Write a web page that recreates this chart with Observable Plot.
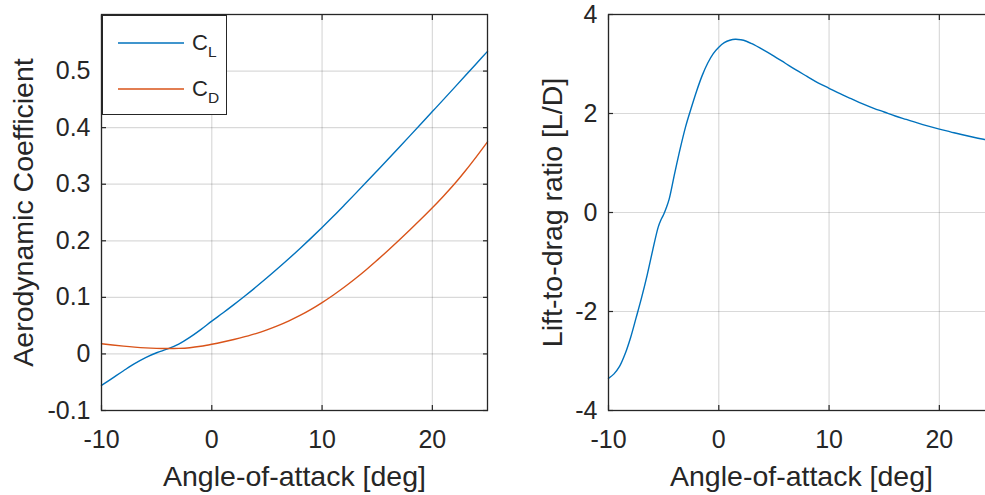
<!DOCTYPE html>
<html>
<head>
<meta charset="utf-8">
<script src="https://cdn.jsdelivr.net/npm/d3@7"></script>
<script src="https://cdn.jsdelivr.net/npm/@observablehq/plot@0.6"></script>
<style>
  html, body { margin: 0; padding: 0; background: #fff; }
  body { width: 985px; height: 495px; overflow: hidden; position: relative; font-family: "Liberation Sans", Arial, sans-serif; }
  #left, #right { position: absolute; top: 0; width: 500px; height: 495px; }
  #left { left: 0; }
  #right { left: 500px; }
  #left svg, #right svg { max-width: none !important; }
  #legend { position: absolute; left: 102px; top: 15px; width: 123px; height: 98px; border: 1.3px solid #262626; background: #fff; }
  .entry { position: absolute; left: 0; width: 123px; height: 30px; }
  .entry svg { position: absolute; left: 14px; top: 0; }
  .entry .lab { position: absolute; left: 89px; top: 0; font-size: 22px; color: #262626; line-height: 30px; }
  .entry .lab sub { font-size: 15.5px; vertical-align: -7px; }
</style>
</head>
<body>
<div id="left"></div>
<div id="right"></div>
<div id="legend"></div>
<script>
// ---------- data ----------
const aoaCoef = [-10,-9,-8,-7,-6,-5,-4,-3,-2,-1,0,1,2,3,4,5,6,7,8,9,10,11,12,13,14,15,16,17,18,19,20,21,22,23,24,25];
const CL = [-0.0557,-0.0427,-0.0297,-0.0172,-0.0064,0.0021,0.0089,0.0174,0.0292,0.0430,0.058,0.0723,0.0871,0.1024,0.1182,0.1345,0.1513,0.1686,0.1864,0.2047,0.2235,0.2428,0.2627,0.2829,0.3033,0.3239,0.3446,0.3654,0.3863,0.4073,0.4284,0.4495,0.4707,0.4920,0.5134,0.5348];
const CD = [0.0180,0.0157,0.0137,0.0120,0.0107,0.0099,0.0095,0.0098,0.0110,0.0135,0.0170,0.0210,0.0255,0.0305,0.0360,0.0425,0.0500,0.0585,0.0680,0.0788,0.0908,0.1038,0.1178,0.1328,0.1488,0.1658,0.1833,0.2013,0.2198,0.2388,0.2583,0.2788,0.3003,0.3238,0.3488,0.3748];

const aoaLD = [-10,-9.5,-9,-8.5,-8,-7.5,-7,-6.5,-6,-5.5,-5.25,-5,-4.75,-4.5,-4,-3.5,-3,-2.5,-2,-1.5,-1,-0.5,0,0.5,1,1.5,2,2.5,3,4,5,6,7,8,9,10,11,12,13,14,15,16,17,18,19,20,21,22,23,24,25];
const LD = [-3.35,-3.26,-3.11,-2.86,-2.53,-2.13,-1.72,-1.27,-0.77,-0.30,-0.15,-0.04,0.10,0.27,0.79,1.29,1.74,2.11,2.46,2.77,3.02,3.21,3.34,3.43,3.48,3.50,3.49,3.46,3.41,3.29,3.16,3.02,2.88,2.75,2.62,2.51,2.40,2.30,2.20,2.11,2.03,1.95,1.88,1.81,1.745,1.685,1.63,1.575,1.525,1.48,1.44];

const seriesNames = ["CL", "CD"];
const seriesColors = ["#0072BD", "#D95319"];
const legendBase = ["C", "C"];
const legendSub = ["L", "D"];

const xTicks = [-10, 0, 10, 20];
const yTicksLeft = [-0.1, 0, 0.1, 0.2, 0.3, 0.4, 0.5];
const yTicksRight = [-4, -2, 0, 2, 4];

const xLabel = "Angle-of-attack [deg]";
const yLabelLeft = "Aerodynamic Coefficient";
const yLabelRight = "Lift-to-drag ratio [L/D]";

// ---------- tables ----------
const coefRows = [];
aoaCoef.forEach((a, i) => {
  coefRows.push({aoa: a, value: CL[i], series: seriesNames[0]});
  coefRows.push({aoa: a, value: CD[i], series: seriesNames[1]});
});
const ldRows = aoaLD.map((a, i) => ({aoa: a, value: LD[i]}));

const ink = "#262626";
const gridStyle = {stroke: "#000", strokeOpacity: 0.15, strokeWidth: 1.2};
const fmt = d => (d < 0 ? "-" : "") + Math.abs(d).toString();
const tickFont = 25;
const labelFont = 28.5;

function grids(yTicks) {
  return [Plot.gridX(xTicks, gridStyle), Plot.gridY(yTicks, gridStyle)];
}
function axes(yTicks, yLabel, yLabelDx) {
  return [
    // inward tick marks
    Plot.axisX(xTicks, {anchor: "bottom", tickSize: 5, dy: -5, text: null, label: null, stroke: ink, strokeWidth: 1.2}),
    Plot.axisX(xTicks, {anchor: "top", tickSize: 5, dy: 5, text: null, label: null, stroke: ink, strokeWidth: 1.2}),
    Plot.axisY(yTicks, {anchor: "left", tickSize: 5, dx: 5, text: null, label: null, stroke: ink, strokeWidth: 1.2}),
    Plot.axisY(yTicks, {anchor: "right", tickSize: 5, dx: -5, text: null, label: null, stroke: ink, strokeWidth: 1.2}),
    // tick labels
    Plot.axisX(xTicks, {anchor: "bottom", tickSize: 0, tickPadding: 20, tickFormat: fmt, label: null, fontSize: tickFont, fill: ink}),
    Plot.axisY(yTicks, {anchor: "left", tickSize: 0, tickPadding: 11, tickFormat: fmt, label: null, fontSize: tickFont, fill: ink}),
    // axis titles
    Plot.text([xLabel], {frameAnchor: "bottom", lineAnchor: "middle", textAnchor: "middle", dy: 66, text: d => d, fontSize: labelFont, fill: ink}),
    Plot.text([yLabel], {frameAnchor: "left", lineAnchor: "middle", textAnchor: "middle", dx: yLabelDx, rotate: -90, text: d => d, fontSize: labelFont, fill: ink}),
    Plot.frame({stroke: ink, strokeWidth: 1.3})
  ];
}

const common = {
  width: 500, height: 495,
  marginTop: 14, marginBottom: 85,
  style: {fontFamily: "'Liberation Sans', Arial, sans-serif", background: "transparent", color: ink, overflow: "visible", maxWidth: "none"},
  x: {domain: [-10, 25]}
};

const left = Plot.plot({
  ...common,
  marginLeft: 101, marginRight: 13,
  y: {domain: [-0.1, 0.6]},
  color: {domain: seriesNames, range: seriesColors},
  marks: [
    ...grids(yTicksLeft),
    Plot.line(coefRows, {x: "aoa", y: "value", z: "series", stroke: "series", strokeWidth: 1.4, curve: "catmull-rom"}),
    ...axes(yTicksLeft, yLabelLeft, -78)
  ]
});
document.getElementById("left").appendChild(left);

const right = Plot.plot({
  ...common,
  marginLeft: 108, marginRight: 6,
  y: {domain: [-4, 4]},
  marks: [
    ...grids(yTicksRight),
    Plot.line(ldRows, {x: "aoa", y: "value", stroke: seriesColors[0], strokeWidth: 1.4, curve: "catmull-rom"}),
    ...axes(yTicksRight, yLabelRight, -56)
  ]
});
document.getElementById("right").appendChild(right);

// ---------- legend ----------
const legend = document.getElementById("legend");
seriesNames.forEach((name, i) => {
  const e = document.createElement("div");
  e.className = "entry";
  e.style.top = (12 + i * 46) + "px";
  e.innerHTML = `<svg width="70" height="30"><line x1="1" x2="67" y1="15" y2="15" stroke="${seriesColors[i]}" stroke-width="1.4"/></svg>` +
    `<span class="lab">${legendBase[i]}<sub>${legendSub[i]}</sub></span>`;
  legend.appendChild(e);
});
</script>
</body>
</html>
